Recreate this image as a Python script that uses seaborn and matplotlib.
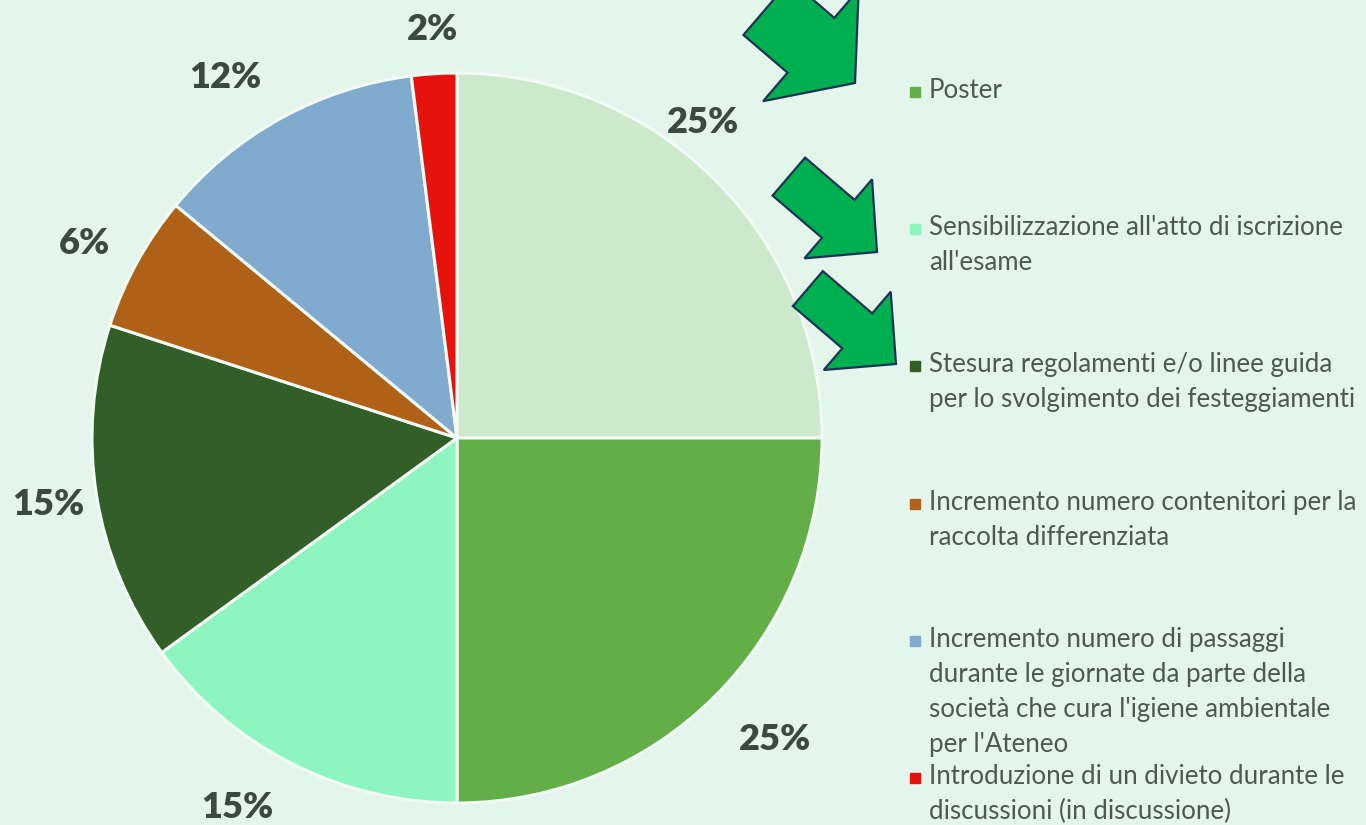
import numpy as np
import matplotlib
matplotlib.use('Agg')
import matplotlib.pyplot as plt
import matplotlib.patches as mpatches
import seaborn as sns

# data
categories = ['', 'Poster',
              "Sensibilizzazione all'atto di iscrizione\nall'esame",
              'Stesura regolamenti e/o linee guida\nper lo svolgimento dei festeggiamenti',
              'Incremento numero contenitori per la\nraccolta differenziata',
              'Incremento numero di passaggi\ndurante le giornate da parte della\nsocietà che cura l\'igiene ambientale\nper l\'Ateneo',
              'Introduzione di un divieto durante le\ndiscussioni (in discussione)']
values = [25, 25, 15, 15, 6, 12, 2]
colors = ['#CCE9CC', '#64AE48', '#8CF5C0', '#325F27', '#B06118', '#80AACE', '#E5130C']
# label placement (angle in degrees, distance in radii)
label_ang = [52, -43.5, -120.7, -170.7, 152.4, 122.7, 93.5]
label_dist = [1.096, 1.20, 1.178, 1.134, 1.153, 1.173, 1.121]

bg = '#E4F6EC'
sns.set_theme(style='white')
plt.rcParams['font.family'] = ['Lato', 'DejaVu Sans']

W, H = 1366, 825
fig = plt.figure(figsize=(W / 100, H / 100), dpi=100, facecolor=bg)

# pie axes: center (457, 438) px, radius 365 px
cx, cy, r = 457, 438, 365
half = r * 1.3
ax = fig.add_axes([(cx - half) / W, (H - cy - half) / H, 2 * half / W, 2 * half / H])
ax.set_facecolor('none')
wedges, texts, autotexts = ax.pie(values, colors=colors, startangle=90, counterclock=False,
                                  autopct='%1.0f%%', pctdistance=1.15, radius=1,
                                  wedgeprops=dict(edgecolor='#F2FAF5', linewidth=2.2),
                                  textprops=dict(fontsize=26, fontweight='heavy', color='#3A4A40'))
for t, a, d in zip(autotexts, label_ang, label_dist):
    a = np.deg2rad(a)
    t.set_position((d * np.cos(a), d * np.sin(a)))
ax.set_xlim(-1.3, 1.3)
ax.set_ylim(-1.3, 1.3)
ax.axis('off')


def px(x, y):
    return x / W, 1 - y / H


# legend (first entry is cut off above the image)
y0, step = 92, 137.2
for i in range(1, len(categories)):
    y = y0 + (i - 1) * step
    fig.patches.append(mpatches.Rectangle(px(910, y + 5), 10 / W, 10 / H, color=colors[i],
                                          transform=fig.transFigure, figure=fig))
    fig.text(*px(929, y - 14), categories[i], fontsize=18.6, color='#4A5A50',
             ha='left', va='top', linespacing=1.5)

# block arrows pointing down-right: tip x, tip y, shaft width, head width, head length
arrows = [(855, 83, 72, 147, 58), (877, 252, 50, 104, 51), (896, 364, 46, 103, 51)]
ux, uy = 0.76, 0.65
L = 116
for tx, ty, wd, hw, hl in arrows:
    sx, sy = tx - ux * L, ty - uy * L
    arr = mpatches.FancyArrow(sx, H - sy, ux * L, -uy * L, width=wd, head_width=hw,
                              head_length=hl, length_includes_head=True,
                              facecolor='#00B050', edgecolor='#1C3355', linewidth=1.6,
                              transform=None)
    fig.patches.append(arr)

fig.savefig('out.png', dpi=100, facecolor=bg)
